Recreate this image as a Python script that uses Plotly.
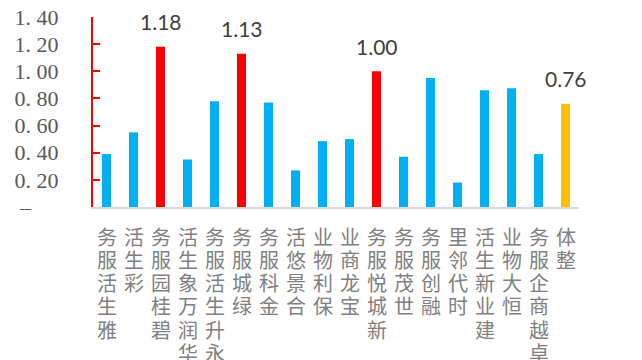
import plotly.graph_objects as go

companies = ["雅生活服务", "彩生活", "碧桂园服务", "华润万象生活", "永升生活服务", "绿城服务",
             "金科服务", "合景悠活", "保利物业", "宝龙商业", "新城悦服务", "世茂服务",
             "融创服务", "时代邻里", "建业新生活", "恒大物业", "卓越商企服务", "整体"]
values = [0.39, 0.55, 1.18, 0.35, 0.78, 1.13, 0.77, 0.27, 0.485, 0.50, 1.00, 0.37,
          0.95, 0.18, 0.86, 0.875, 0.39, 0.76]
labeled = ["碧桂园服务", "绿城服务", "新城悦服务", "整体"]
tick_vals = [0, 0.2, 0.4, 0.6, 0.8, 1.0, 1.2, 1.4]
tick_text = ["–\u00a0\u00a0\u00a0\u00a0\u00a0", "0. 20", "0. 40", "0. 60", "0. 80", "1. 00", "1. 20", "1. 40"]

BLUE, RED, ORANGE = "#00b0f0", "#ff0000", "#ffc000"
colors = []
for c in companies:
    if c == "整体":
        colors.append(ORANGE)
    elif c in labeled:
        colors.append(RED)
    else:
        colors.append(BLUE)

fig = go.Figure(go.Bar(x=companies, y=values, marker=dict(color=colors, line=dict(width=0))))

# value labels on highlighted bars
for c, v in zip(companies, values):
    if c in labeled:
        fig.add_annotation(x=c, y=v, text=f"{v:.2f}", showarrow=False, yanchor="middle",
                           yshift=25, font=dict(family="Lato", size=21, color="#404040"))

# stacked (vertical) category labels: last character on top, reading bottom-up
CH_FONT = dict(family="Noto Sans CJK SC", size=20, color="#808080")
PITCH = 23.3
for c in companies:
    for i, ch in enumerate(reversed(c)):
        fig.add_annotation(x=c, xref="x", y=0, yref="paper", text=ch, showarrow=False,
                           yanchor="middle", xanchor="center",
                           yshift=-(29 + i * PITCH), font=CH_FONT)

fig.update_layout(
    width=642, height=360,
    margin=dict(l=93, r=63, t=17, b=153, autoexpand=False),
    plot_bgcolor="white", paper_bgcolor="white",
    bargap=0.667, showlegend=False,
    xaxis=dict(range=[-0.5, 17.5], showline=True, linecolor="#d9d9d9", linewidth=2,
               ticks="", showgrid=False, showticklabels=False, automargin=False),
    yaxis=dict(range=[0, 1.4], tickmode="array", tickvals=tick_vals, ticktext=tick_text,
               showline=True, linecolor="red", linewidth=2, ticks="inside", ticklen=7,
               tickcolor="red", tickwidth=2, showgrid=False, zeroline=False,
               ticklabelstandoff=28, automargin=False,
               tickfont=dict(family="Liberation Serif", size=22, color="#595959")),
)

fig.write_html("out.html")
